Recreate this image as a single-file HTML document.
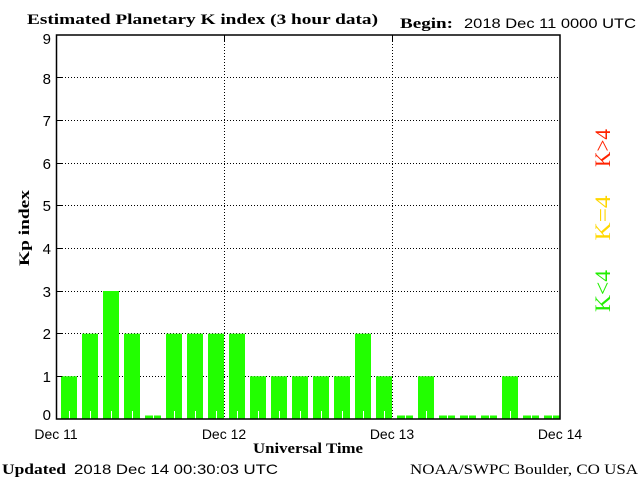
<!DOCTYPE html>
<html><head><style>body{margin:0;background:#fff}svg{display:block}</style></head><body>
<svg width="640" height="480" xmlns="http://www.w3.org/2000/svg">
<rect width="640" height="480" fill="#fff"/>
<g font-family="Liberation Serif, serif" font-weight="bold" font-size="15" fill="#000">
<text x="27" y="24" textLength="351" lengthAdjust="spacingAndGlyphs">Estimated Planetary K index (3 hour data)</text>
<text x="400" y="28" textLength="53" lengthAdjust="spacingAndGlyphs">Begin:</text>
<text x="253" y="453" textLength="110" lengthAdjust="spacingAndGlyphs">Universal Time</text>
<text x="2" y="474" textLength="64" lengthAdjust="spacingAndGlyphs">Updated</text>
<text transform="translate(29,228) rotate(-90)" text-anchor="middle" textLength="76" lengthAdjust="spacingAndGlyphs">Kp index</text>
</g>
<g font-family="Liberation Serif, serif" font-size="15" fill="#000">
<text x="410" y="474" textLength="228" lengthAdjust="spacingAndGlyphs">NOAA/SWPC Boulder, CO USA</text>
</g>
<g font-family="Liberation Sans, sans-serif" font-size="14" fill="#000">
<text x="464" y="28" textLength="172" lengthAdjust="spacingAndGlyphs">2018 Dec 11 0000 UTC</text>
<text x="74" y="474" textLength="204" lengthAdjust="spacingAndGlyphs">2018 Dec 14 00:30:03 UTC</text>
<g text-anchor="middle">
<text x="56" y="439">Dec 11</text><text x="224" y="439">Dec 12</text><text x="392" y="439">Dec 13</text><text x="560" y="439">Dec 14</text>
</g>
<g text-anchor="end" font-size="15">
<text x="51" y="420">0</text><text x="51" y="382">1</text><text x="51" y="339">2</text><text x="51" y="297">3</text><text x="51" y="254">4</text><text x="51" y="211">5</text><text x="51" y="169">6</text><text x="51" y="126">7</text><text x="51" y="84">8</text><text x="51" y="44">9</text>
</g>
</g>
<g stroke="#000" stroke-dasharray="1,2" stroke-width="1">
<path d="M62 77.5H560M62 120.5H560M62 163.5H560M62 205.5H560M62 248.5H560M62 291.5H560M62 333.5H560M62 376.5H560"/>
<path d="M224.5 41V419M392.5 41V419"/>
</g>
<g fill="#22ff00">
<rect x="61" y="376.3" width="16" height="42.7"/>
<rect x="82" y="333.7" width="16" height="85.3"/>
<rect x="103" y="291" width="16" height="128"/>
<rect x="124" y="333.7" width="16" height="85.3"/>
<rect x="145" y="415.5" width="16" height="3.5"/>
<rect x="166" y="333.7" width="16" height="85.3"/>
<rect x="187" y="333.7" width="16" height="85.3"/>
<rect x="208" y="333.7" width="16" height="85.3"/>
<rect x="229" y="333.7" width="16" height="85.3"/>
<rect x="250" y="376.3" width="16" height="42.7"/>
<rect x="271" y="376.3" width="16" height="42.7"/>
<rect x="292" y="376.3" width="16" height="42.7"/>
<rect x="313" y="376.3" width="16" height="42.7"/>
<rect x="334" y="376.3" width="16" height="42.7"/>
<rect x="355" y="333.7" width="16" height="85.3"/>
<rect x="376" y="376.3" width="16" height="42.7"/>
<rect x="397" y="415.5" width="16" height="3.5"/>
<rect x="418" y="376.3" width="16" height="42.7"/>
<rect x="439" y="415.5" width="16" height="3.5"/>
<rect x="460" y="415.5" width="16" height="3.5"/>
<rect x="481" y="415.5" width="16" height="3.5"/>
<rect x="502" y="376.3" width="16" height="42.7"/>
<rect x="523" y="415.5" width="16" height="3.5"/>
<rect x="544" y="415.5" width="16" height="3.5"/>
</g>
<g stroke="#fff" stroke-width="1">
<path d="M69.5 411V419M90.5 411V419M111.5 411V419M132.5 411V419M153.5 415V419M174.5 411V419M195.5 411V419M216.5 411V419M237.5 411V419M258.5 411V419M279.5 411V419M300.5 411V419M321.5 411V419M342.5 411V419M363.5 411V419M384.5 411V419M405.5 415V419M426.5 411V419M447.5 415V419M468.5 415V419M489.5 415V419M510.5 411V419M531.5 415V419M552.5 415V419"/>
</g>
<g stroke="#000" stroke-width="1.5" fill="none">
<rect x="56.5" y="35" width="503.5" height="384"/>
</g>
<g stroke="#000" stroke-width="1">
<path d="M56 77.5h6M56 120.5h6M56 163.5h6M56 205.5h6M56 248.5h6M56 291.5h6M56 333.5h6M56 376.5h6M224.5 35v6M392.5 35v6"/>
</g>
<g font-family="Liberation Serif, serif" font-size="22" text-anchor="middle">
<text transform="translate(610,148) rotate(-90)" fill="#ff2200" textLength="38" lengthAdjust="spacingAndGlyphs">K&gt;4</text>
<text transform="translate(610,218) rotate(-90)" fill="#ffd700" textLength="45" lengthAdjust="spacingAndGlyphs">K=4</text>
<text transform="translate(610,291) rotate(-90)" fill="#22ee00" textLength="42" lengthAdjust="spacingAndGlyphs">K&lt;4</text>
</g>
</svg>
</body></html>
